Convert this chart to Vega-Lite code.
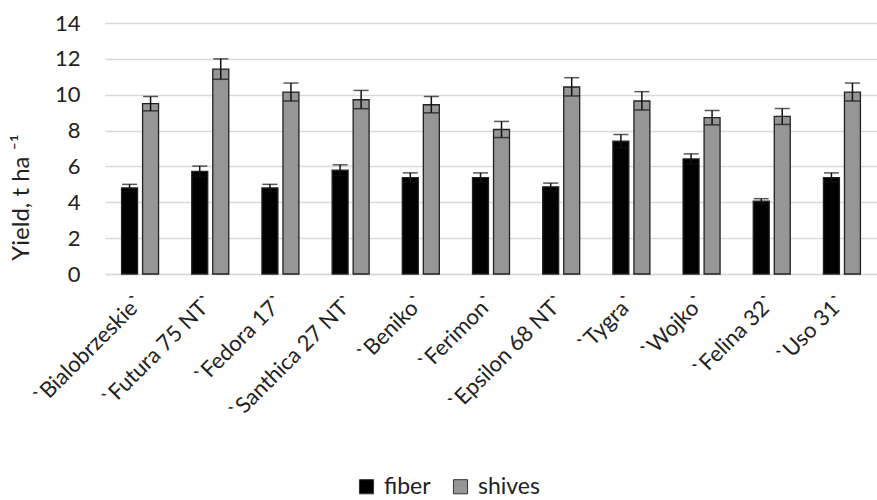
{
  "$schema": "https://vega.github.io/schema/vega-lite/v6.json",
  "width": 772,
  "height": 251,
  "autosize": {"type": "none"},
  "padding": {"left": 105, "top": 23, "right": 0, "bottom": 226},
  "background": "white",
  "config": {
    "font": "Lato",
    "view": {"stroke": null},
    "axis": {"labelFont": "Lato", "titleFont": "Lato", "labelColor": "#222", "titleColor": "#222"}
  },
  "resolve": {"axis": {"y": "independent"}},
  "data": {
    "values": [
      {"variety": "`Bialobrzeskie`", "series": "fiber", "value": 4.8, "low": 4.6, "high": 5.0},
      {"variety": "`Bialobrzeskie`", "series": "shives", "value": 9.5, "low": 9.1, "high": 9.9},
      {"variety": "`Futura 75 NT`", "series": "fiber", "value": 5.72, "low": 5.42, "high": 6.02},
      {"variety": "`Futura 75 NT`", "series": "shives", "value": 11.43, "low": 10.86, "high": 12.0},
      {"variety": "`Fedora 17`", "series": "fiber", "value": 4.8, "low": 4.6, "high": 5.0},
      {"variety": "`Fedora 17`", "series": "shives", "value": 10.15, "low": 9.65, "high": 10.65},
      {"variety": "`Santhica 27 NT`", "series": "fiber", "value": 5.79, "low": 5.49, "high": 6.09},
      {"variety": "`Santhica 27 NT`", "series": "shives", "value": 9.72, "low": 9.22, "high": 10.24},
      {"variety": "`Beniko`", "series": "fiber", "value": 5.38, "low": 5.13, "high": 5.64},
      {"variety": "`Beniko`", "series": "shives", "value": 9.44, "low": 8.99, "high": 9.9},
      {"variety": "`Ferimon`", "series": "fiber", "value": 5.38, "low": 5.13, "high": 5.64},
      {"variety": "`Ferimon`", "series": "shives", "value": 8.06, "low": 7.61, "high": 8.51},
      {"variety": "`Epsilon 68 NT`", "series": "fiber", "value": 4.86, "low": 4.66, "high": 5.07},
      {"variety": "`Epsilon 68 NT`", "series": "shives", "value": 10.43, "low": 9.93, "high": 10.95},
      {"variety": "`Tygra`", "series": "fiber", "value": 7.41, "low": 7.04, "high": 7.78},
      {"variety": "`Tygra`", "series": "shives", "value": 9.65, "low": 9.15, "high": 10.17},
      {"variety": "`Wojko`", "series": "fiber", "value": 6.42, "low": 6.14, "high": 6.7},
      {"variety": "`Wojko`", "series": "shives", "value": 8.72, "low": 8.32, "high": 9.12},
      {"variety": "`Felina 32`", "series": "fiber", "value": 4.06, "low": 3.92, "high": 4.2},
      {"variety": "`Felina 32`", "series": "shives", "value": 8.79, "low": 8.34, "high": 9.23},
      {"variety": "`Uso 31`", "series": "fiber", "value": 5.38, "low": 5.13, "high": 5.64},
      {"variety": "`Uso 31`", "series": "shives", "value": 10.15, "low": 9.65, "high": 10.65}
    ]
  },
  "encoding": {
    "x": {
      "field": "variety",
      "type": "nominal",
      "sort": null,
      "scale": {"paddingInner": 0.473, "paddingOuter": 0.236},
      "axis": {
        "title": null,
        "labelAngle": -45,
        "labelBaseline": "middle",
        "labelFontSize": 22,
        "labelPadding": 24,
        "ticks": false,
        "domainColor": "#d9d9d9",
        "domainWidth": 1.5,
        "labelLimit": 300,
        "labelOverlap": false
      }
    },
    "xOffset": {"field": "series", "type": "nominal", "scale": {"paddingInner": 0.24}}
  },
  "layer": [
    {
      "mark": {"type": "bar", "stroke": "#222", "strokeWidth": 1.3},
      "encoding": {
        "y": {
          "field": "value",
          "type": "quantitative",
          "scale": {"domain": [0, 14]},
          "axis": {
            "title": "Yield, t ha ⁻¹",
            "titleFontSize": 24,
            "titleFontWeight": "normal",
            "titleY": 174,
            "titleX": -72,
            "values": [0, 2, 4, 6, 8, 10, 12, 14],
            "labelFontSize": 22,
            "labelPadding": 25,
            "labelOverlap": false,
            "ticks": false,
            "domain": false,
            "gridColor": "#d9d9d9",
            "gridWidth": 1.5,
            "zindex": 0
          }
        },
        "color": {
          "field": "series",
          "type": "nominal",
          "scale": {"domain": ["fiber", "shives"], "range": ["#000000", "#969696"]},
          "legend": {
            "title": null,
            "orient": "none",
            "direction": "horizontal",
            "legendX": 250,
            "legendY": 452,
            "symbolType": "square",
            "symbolSize": 200,
            "symbolStrokeColor": "#333",
            "symbolStrokeWidth": 1,
            "labelFontSize": 23,
            "labelColor": "#222",
            "labelOffset": 6,
            "columnPadding": 18
          }
        }
      }
    },
    {
      "mark": {"type": "rule", "color": "#111", "strokeWidth": 1.5},
      "encoding": {
        "y": {"field": "low", "type": "quantitative", "axis": null},
        "y2": {"field": "high"}
      }
    },
    {
      "mark": {"type": "tick", "color": "#111", "size": 15, "thickness": 1.5},
      "encoding": {"y": {"field": "high", "type": "quantitative", "axis": null}}
    },
    {
      "mark": {"type": "tick", "color": "#111", "size": 15, "thickness": 1.5},
      "encoding": {"y": {"field": "low", "type": "quantitative", "axis": null}}
    }
  ]
}
